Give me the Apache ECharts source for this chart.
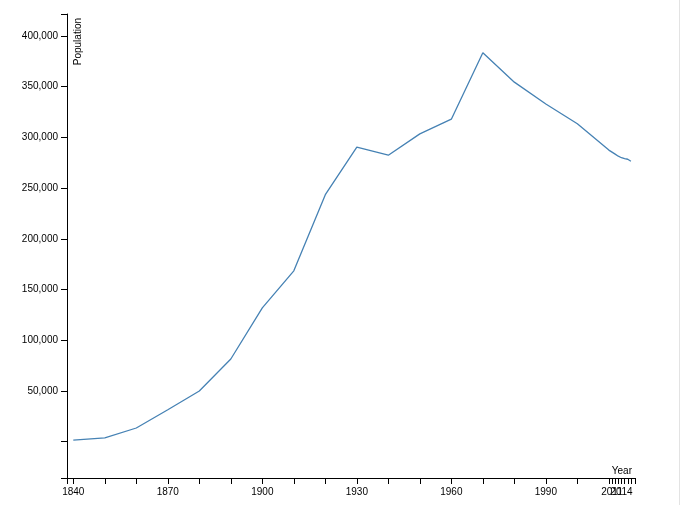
<!DOCTYPE html>
<html>
<head>
<meta charset="utf-8">
<script src="https://cdn.jsdelivr.net/npm/echarts@6/dist/echarts.min.js"></script>
<style>
html,body{margin:0;padding:0;background:#fff;}
#chart{width:692px;height:505px;}
</style>
</head>
<body>
<div id="chart"></div>
<script>
// Data
var years = [1840,1850,1860,1870,1880,1890,1900,1910,1920,1930,1940,1950,1960,1970,1980,1990,2000,2010,2011,2012,2013,2014,2015,2016,2017];
var population = [1500,3700,13500,31500,50000,81500,132000,168500,243500,290500,282500,303500,318000,383500,354500,333000,313500,287500,285500,283500,281500,280000,279000,278500,276500];
var xLabelYears = [1840,1870,1900,1930,1960,1990,2011];
var xLabelYearsExtra = [2014];
var yTickValues = [0,50000,100000,150000,200000,250000,300000,350000,400000];
var yLabelValues = [50000,100000,150000,200000,250000,300000,350000,400000];

var xMin = 1838, xMax = 2018.3;
var yMin = -35800, yMax = 421700;

var chart = echarts.init(document.getElementById('chart'), null, {renderer:'canvas'});
var font = "'Liberation Sans', Arial, sans-serif";
var seriesData = years.map(function(y,i){return [y, population[i]];});

chart.setOption({
  animation:false,
  backgroundColor:'#fff',
  grid:{left:67, right:57, top:14, bottom:27, containLabel:false},
  xAxis:[{
    type:'value', min:xMin, max:xMax, position:'bottom',
    axisLine:{show:true, onZero:false, lineStyle:{color:'#000', width:1}},
    axisTick:{show:true, length:6, lineStyle:{color:'#000'}, customValues: [xMin].concat(years).concat([xMax])},
    axisLabel:{show:true, margin:9, fontSize:10, color:'#000', fontFamily:font, customValues:xLabelYears,
      hideOverlap:false, showMinLabel:true, showMaxLabel:true,
      formatter:function(v){return String(v);}},
    splitLine:{show:false}
  },{
    type:'value', min:xMin, max:xMax, position:'bottom',
    axisLine:{show:false, onZero:false},
    axisTick:{show:false},
    axisLabel:{show:true, margin:9, fontSize:10, color:'#000', fontFamily:font, customValues:xLabelYearsExtra,
      hideOverlap:false, formatter:function(v){return String(v);}},
    splitLine:{show:false}
  }],
  yAxis:{
    type:'value', min:yMin, max:yMax,
    axisLine:{show:true, onZero:false, lineStyle:{color:'#000', width:1}},
    axisTick:{show:true, length:6, lineStyle:{color:'#000'}, customValues:[yMin].concat(yTickValues).concat([yMax])},
    axisLabel:{show:true, margin:9, fontSize:10, color:'#000', fontFamily:font, customValues:yLabelValues,
      hideOverlap:false,
      formatter:function(v){return Number(v).toLocaleString('en-US');}},
    splitLine:{show:false}
  },
  series:[{
    type:'line', data:seriesData, showSymbol:false, symbol:'none', xAxisIndex:0,
    lineStyle:{color:'#4682b4', width:1.3}, silent:true
  }],
  graphic:[
    {type:'text', x:73, y:18, rotation:Math.PI/2,
      style:{text:'Population', fontSize:10, fontFamily:font, fill:'#000', align:'right', verticalAlign:'top'}},
    {type:'text', x:632, y:476,
      style:{text:'Year', fontSize:10, fontFamily:font, fill:'#000', align:'right', verticalAlign:'bottom'}},
    {type:'line', shape:{x1:679.5, y1:0, x2:679.5, y2:505}, style:{stroke:'#e3e3e3', lineWidth:1}}
  ]
});
</script>
</body>
</html>
